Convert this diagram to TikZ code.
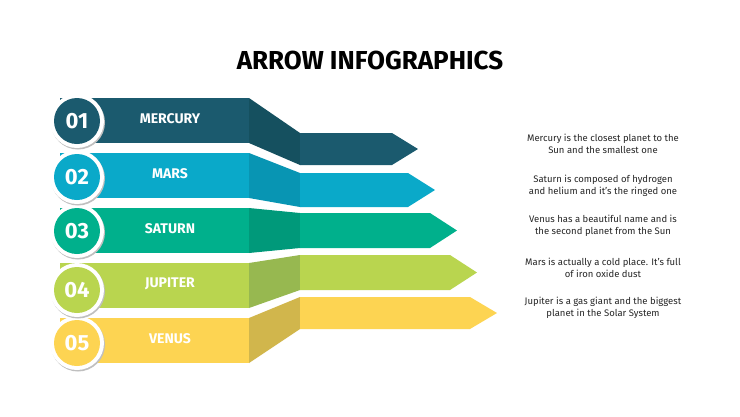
\documentclass[tikz,border=0pt]{standalone}
\usepackage{fontspec}
\setmainfont{Fira Sans}
\begin{document}
\begin{tikzpicture}[x=1pt,y=-1pt,
  lbl/.style={text=white,font=\bfseries\fontsize{14}{16}\selectfont},
  num/.style={text=white,font=\fontsize{22}{24}\selectfont\bfseries},
  desc/.style={align=center,font=\fontsize{9.5}{12}\selectfont,text=black!85}]
\useasboundingbox (0,0) rectangle (740,416);
\fill[white] (0,0) rectangle (740,416);
\node[font=\bfseries\fontsize{26}{30}\selectfont] (title) at (370,60) {ARROW INFOGRAPHICS};
\definecolor{c1}{HTML}{1B5A6E}\definecolor{d1}{HTML}{15505F}
\definecolor{c2}{HTML}{0AA9C9}\definecolor{d2}{HTML}{0895B3}
\definecolor{c3}{HTML}{00B08C}\definecolor{d3}{HTML}{00997A}
\definecolor{c4}{HTML}{B9D54F}\definecolor{d4}{HTML}{97B850}
\definecolor{c5}{HTML}{FDD452}\definecolor{d5}{HTML}{D1B64C}
% args: i, left top, left bottom, right top, right bottom, head start, tip, circle y, label, number
\foreach \i/\lt/\lb/\rt/\rb/\hs/\tp/\cy/\lab/\n in {
 5/318/363/297/329/470/497/343/VENUS/05,
 4/263/308/255/290/450/477/290/JUPITER/04,
 3/208/253/213/248/430/457/231/SATURN/03,
 2/153/198/173/207/408/435/177/MARS/02,
 1/98/143/133/165/392/418/121/MERCURY/01}{
  \fill[c\i] (60,\lt) rectangle (249,\lb);
  \fill[d\i] (249,\lt) -- (300,\rt) -- (300,\rb) -- (249,\lb) -- cycle;
  \fill[c\i] (300,\rt) -- (\hs,\rt) -- (\tp,{(\rt+\rb)/2}) -- (\hs,\rb) -- (300,\rb) -- cycle;
  \node[lbl] (l\i) at (170,{(\lt+\lb)/2-2}) {\lab};
  \fill[black!25] (78,\cy+1.5) circle (27);
  \fill[white] (77,\cy) circle (27);
  \fill[c\i] (77,\cy) circle (23);
  \node[num] (n\i) at (77,\cy) {\n};
}
\node[desc] (t1) at (603,144) {Mercury is the closest planet to the\\Sun and the smallest one};
\node[desc] (t2) at (603,186) {Saturn is composed of hydrogen\\and helium and it’s the ringed one};
\node[desc] (t3) at (603,226) {Venus has a beautiful name and is\\the second planet from the Sun};
\node[desc] (t4) at (603,268) {Mars is actually a cold place. It’s full\\of iron oxide dust};
\node[desc] (t5) at (603,308) {Jupiter is a gas giant and the biggest\\planet in the Solar System};
\end{tikzpicture}
\end{document}
